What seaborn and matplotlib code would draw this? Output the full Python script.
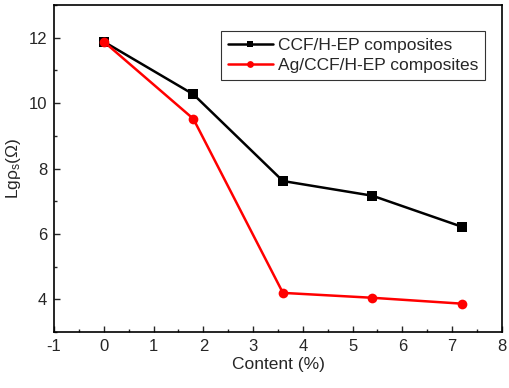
import numpy as np
import matplotlib
matplotlib.use('Agg')
import matplotlib.pyplot as plt
import seaborn as sns
import pandas as pd
from matplotlib.ticker import MultipleLocator

# ---- data ----
content = [0, 1.8, 3.6, 5.4, 7.2]
ccf_hep = [11.88, 10.27, 7.62, 7.17, 6.22]
ag_ccf_hep = [11.88, 9.52, 4.20, 4.05, 3.87]
series_names = ['CCF/H-EP composites', 'Ag/CCF/H-EP composites']

df = pd.DataFrame({
    'Content': content * 2,
    'Lg': ccf_hep + ag_ccf_hep,
    'Sample': [series_names[0]] * len(content) + [series_names[1]] * len(content),
})

sns.set_style('ticks')
plt.rcParams['font.family'] = ['Liberation Sans', 'DejaVu Sans']
plt.rcParams['mathtext.fontset'] = 'custom'
plt.rcParams['mathtext.rm'] = 'Liberation Sans'
plt.rcParams['mathtext.it'] = 'Liberation Sans'
plt.rcParams['axes.unicode_minus'] = False

fig = plt.figure(figsize=(5.1, 3.88), dpi=100)
ax = fig.add_axes([0.106, 0.144, 0.878, 0.843])

sns.lineplot(data=df, x='Content', y='Lg', hue='Sample', style='Sample',
             palette=['black', 'red'], markers=['s', 'o'], dashes=False,
             markersize=7, linewidth=1.8, markeredgewidth=0, ax=ax)

ax.set_xlim(-1, 8)
ax.set_ylim(3, 13)
ax.xaxis.set_major_locator(MultipleLocator(1))
ax.xaxis.set_minor_locator(MultipleLocator(0.5))
ax.yaxis.set_major_locator(MultipleLocator(2))
ax.yaxis.set_minor_locator(MultipleLocator(1))
ax.tick_params(which='both', direction='in', top=False, right=False, labelsize=12)
ax.tick_params(which='major', length=4, width=1, pad=5)
ax.tick_params(which='minor', length=2.5, width=1)
for s in ax.spines.values():
    s.set_linewidth(1.2)
    s.set_color('black')

ax.set_xlabel('Content (%)', fontsize=12.5, labelpad=2)
ax.set_ylabel(r'Lg$\rho_s$($\Omega$)', fontsize=12.5)

leg = ax.legend(loc='upper right', bbox_to_anchor=(0.963, 0.922), fontsize=12.5,
                frameon=True, fancybox=False, edgecolor='black', handlelength=2.6,
                borderpad=0.4, labelspacing=0.3, handletextpad=0.3, borderaxespad=0,
                markerscale=0.7)
leg.get_frame().set_linewidth(0.8)

plt.savefig('out.png', dpi=100)
